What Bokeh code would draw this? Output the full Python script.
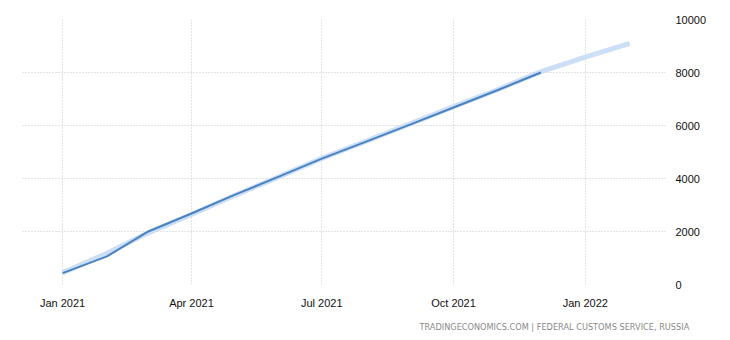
from datetime import datetime
from bokeh.plotting import figure
from bokeh.models import (ColumnDataSource, FixedTicker, DatetimeTickFormatter,
                          LinearAxis, Range1d, Title)
from bokeh.embed import file_html
from bokeh.resources import INLINE

# Actual series (monthly, cumulative)
actual_dates = ["2021-01-01", "2021-02-01", "2021-03-01", "2021-04-01", "2021-05-01",
                "2021-06-01", "2021-07-01", "2021-08-01", "2021-09-01", "2021-10-01",
                "2021-11-01", "2021-12-01"]
actual_values = [430, 1060, 1980, 2680, 3380, 4070, 4750, 5390, 6040, 6680, 7340, 8000]

# Forecast series
forecast_dates = ["2021-01-01", "2021-02-01", "2021-03-01", "2021-04-01", "2021-05-01",
                  "2021-06-01", "2021-07-01", "2021-08-01", "2021-09-01", "2021-10-01",
                  "2021-11-01", "2021-12-01", "2022-01-01", "2022-02-01"]
forecast_values = [440, 1180, 1930, 2640, 3360, 4060, 4760, 5410, 6070, 6710, 7360, 8030,
                   8580, 9100]

tick_dates = ["2021-01-01", "2021-04-01", "2021-07-01", "2021-10-01", "2022-01-01"]
y_ticks = [0, 2000, 4000, 6000, 8000, 10000]
source_text = "TRADINGECONOMICS.COM  |  FEDERAL CUSTOMS SERVICE, RUSSIA"


def to_dt(s):
    return datetime.strptime(s, "%Y-%m-%d")


def to_ms(s):
    return (to_dt(s) - datetime(1970, 1, 1)).total_seconds() * 1000.0


p = figure(width=730, height=340, x_axis_type="datetime",
           output_backend="svg", toolbar_location=None,
           x_range=Range1d(to_dt("2020-12-04"), to_dt("2022-02-26")),
           y_range=Range1d(0, 10000),
           min_border_left=22, min_border_right=65,
           min_border_top=19, min_border_bottom=10)
p.outline_line_color = None
p.background_fill_color = "white"
p.border_fill_color = "white"

fsrc = ColumnDataSource(dict(x=[to_dt(d) for d in forecast_dates], y=forecast_values))
asrc = ColumnDataSource(dict(x=[to_dt(d) for d in actual_dates], y=actual_values))

p.line("x", "y", source=fsrc, line_color="#c6dbf5", line_width=5, line_alpha=0.9)
p.line("x", "y", source=asrc, line_color="#4a82c2", line_width=2)

# x axis
p.xaxis.ticker = FixedTicker(ticks=[to_ms(d) for d in tick_dates])
p.xaxis.formatter = DatetimeTickFormatter(months="%b %Y", days="%b %Y", years="%b %Y")
p.xaxis.axis_line_color = None
p.xaxis.major_tick_line_color = None
p.xaxis.minor_tick_line_color = None
p.xaxis.major_label_text_font = "Liberation Sans"
p.xaxis.major_label_text_font_size = "11px"
p.xaxis.major_label_text_color = "#111111"
p.xaxis.major_label_standoff = 6

# y axis on right
p.yaxis.visible = False
yax = LinearAxis(ticker=FixedTicker(ticks=y_ticks))
yax.axis_line_color = None
yax.major_tick_line_color = None
yax.minor_tick_line_color = None
yax.major_label_text_font = "Liberation Sans"
yax.major_label_text_font_size = "11px"
yax.major_label_text_color = "#111111"
yax.major_label_standoff = 4
p.add_layout(yax, "right")

for g in (p.xgrid, p.ygrid):
    g.grid_line_color = "#c8c8c8"
    g.grid_line_dash = "1 2"
    g.grid_line_width = 1
p.ygrid.ticker = FixedTicker(ticks=y_ticks)
p.xgrid.ticker = FixedTicker(ticks=[to_ms(d) for d in tick_dates])

src_title = Title(text=source_text, align="left", offset=397,
                  text_font="DejaVu Sans", text_font_size="8.2px",
                  text_font_style="normal", text_color="#8a8a8a",
                  standoff=17)
p.add_layout(src_title, "below")

open("out.html", "w").write(file_html(p, INLINE))
